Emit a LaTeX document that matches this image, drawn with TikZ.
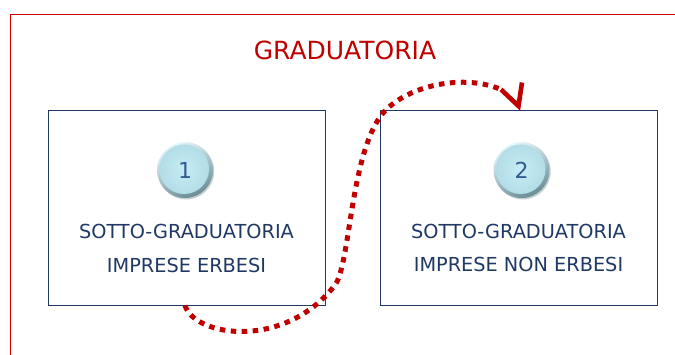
\documentclass[tikz,border=0pt]{standalone}
\usepackage{fontspec}
\setmainfont{DejaVu Sans}
\definecolor{navy}{HTML}{1F3864}
\definecolor{numblue}{HTML}{2F5C92}
\definecolor{curvered}{HTML}{C00000}
\definecolor{framered}{HTML}{D00000}
\definecolor{titlered}{HTML}{C00000}
\definecolor{ballface}{HTML}{C6ECF4}
\definecolor{ballfaceout}{HTML}{B2DDE7}
\definecolor{rimlight}{HTML}{E8F8FB}
\definecolor{rimdark}{HTML}{6A8C96}
\newcommand\ballat[2]{%
  \fill[rimdark!70!black, opacity=0.3] (#1+1.2,#2+1.5) circle (28);
  \shade[top color=rimlight, bottom color=rimdark, shading angle=25] (#1,#2) circle (28);
  \shade[inner color=ballface, outer color=ballfaceout] (#1-0.8,#2-0.8) circle (24.8);
}
\begin{document}
\begin{tikzpicture}[x=1pt,y=-1pt,
  box/.style={draw=navy, line width=1pt, minimum width=277pt, minimum height=195pt, inner sep=0pt},
  lbl/.style={text=navy, font=\fontsize{19.3}{23}\selectfont, inner sep=0pt},
  num/.style={circle, minimum size=54pt, inner sep=0pt, text=numblue, font=\fontsize{22}{26}\selectfont},
  titlelbl/.style={text=titlered, font=\fontsize{25}{30}\selectfont, inner sep=0pt},
  dotline/.style={draw=curvered, line width=5pt, dash pattern=on 5.5pt off 5.5pt},
  arrowv/.style={draw=curvered, line width=4.6pt, line join=miter},
]
\useasboundingbox (0,0) rectangle (675,354);
\clip (0,0) rectangle (675,354);
\draw[framered, line width=1.4pt] (10.3,360) -- (10.3,14.3) -- (680,14.3);
\node[titlelbl] (title) at (345,50.5) {GRADUATORIA};
\node[box] (b1) at (186.5,207.5) {};
\node[box] (b2) at (518.5,207.5) {};
\ballat{185}{170}
\ballat{521.5}{170}
\node[num] (c1) at (185,170) {1};
\node[num] (c2) at (521.5,170) {2};
\node[lbl] (t1a) at (186.5,231) {SOTTO-GRADUATORIA};
\node[lbl] (t1b) at (186.5,265) {IMPRESE ERBESI};
\node[lbl] (t2a) at (518.5,231) {SOTTO-GRADUATORIA};
\node[lbl] (t2b) at (518.5,264.5) {IMPRESE NON ERBESI};
\coordinate (tipv) at ([shift={(0,-3.5)}]b2.north);
\coordinate (armL) at ([shift={(-17.5,-20)}]b2.north);
\coordinate (armR) at ([shift={(3.5,-27)}]b2.north);
\draw[dotline] ([xshift=-1.5pt]b1.south) .. controls (195,337) and (285,350) .. (335,285)
  .. controls (350,265) and (350,160) .. (380,117)
  .. controls (400,88) and (460,72) .. (armL);
\draw[arrowv] (armL) -- (tipv) -- (armR);
\end{tikzpicture}
\end{document}
